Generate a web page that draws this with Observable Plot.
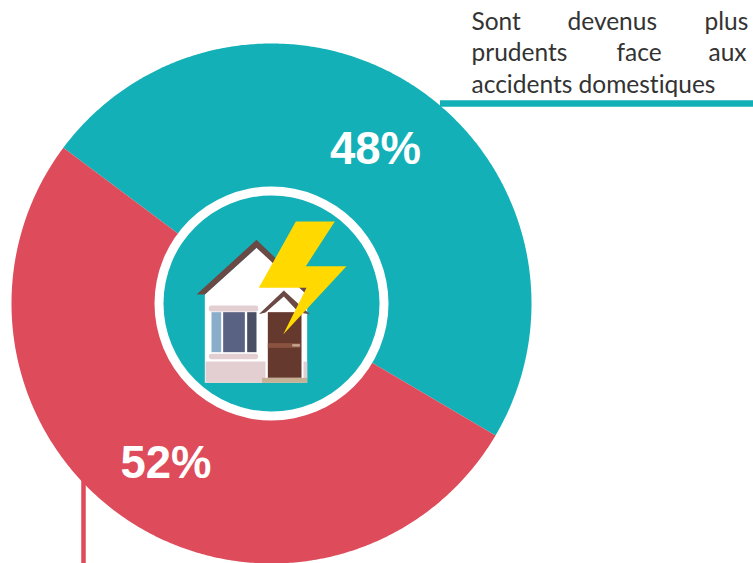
<!DOCTYPE html>
<html><head><meta charset="utf-8">
<script src="https://cdn.jsdelivr.net/npm/d3@7"></script>
<script src="https://cdn.jsdelivr.net/npm/@observablehq/plot@0.6"></script>
<style>html,body{margin:0;padding:0;background:#fff}svg{display:block}svg text{font-variant-ligatures:none}</style>
</head><body><div id="chart"></div>
<script>
const categories = ["Sont devenus plus prudents", "Autres"];
const shares = [48.25, 51.75];
const shareLabels = ["48%", "52%"];
const colors = ["#13b0b8", "#de4b5b"];
const captionLines = [["Sont","devenus","plus"],["prudents","face","aux"],["accidents domestiques"]];

const W = 753, H = 563, cx = 271, cy = 303, R = 260, startDeg = -53.2;

// wedges from the shares
let acc = startDeg;
const wedgePts = [];
categories.forEach((c, i) => {
  const span = shares[i] * 3.6, a0 = acc;
  wedgePts.push({category: c, x: cx, y: cy});
  for (let k = 0; k <= 360; k++) {
    const a = (a0 + span * k / 360) * Math.PI / 180;
    wedgePts.push({category: c, x: cx + R * Math.sin(a), y: cy - R * Math.cos(a)});
  }
  acc += span;
});

const iconSvg = `<svg xmlns="http://www.w3.org/2000/svg" viewBox="0 0 720 660" width="240" height="220">
<polygon points="163,312 318,172 470,300 470,577 163,577" fill="#fff"/>
<polygon points="138,312 318,148 468,292 468,312 318,172 163,312" fill="#6b4a45"/>
<rect x="165" y="513" width="180" height="64" fill="#e3cfd2"/>
<rect x="459" y="513" width="11" height="50" fill="#e3cfd2"/>
<rect x="175" y="345" width="148" height="18" rx="7" fill="#e3cfd2"/>
<rect x="175" y="490" width="148" height="16" rx="7" fill="#e3cfd2"/>
<rect x="183" y="365" width="29" height="120" fill="#8aaec9"/>
<rect x="218" y="365" width="65" height="120" fill="#5a6283"/>
<rect x="290" y="365" width="28" height="120" fill="#4a4f66"/>
<polygon points="345,368 400,318 458,368" fill="#fff"/>
<polygon points="325,371 400,300 478,371 445,366 400,318 345,366" fill="#6b4a45"/>
<rect x="352" y="365" width="101" height="197" fill="#66392e"/>
<rect x="352" y="458" width="98" height="14" fill="#8a5240"/>
<rect x="425" y="461" width="23" height="7" fill="#c8a898"/>
<rect x="335" y="562" width="135" height="15" fill="#c6b196"/>
<polygon points="436,93 553,93 466,227 588,227 398,432 468,292 325,292" fill="#ffd900"/>
</svg>`;
const iconSrc = "data:image/svg+xml;utf8," + encodeURIComponent(iconSvg);

const wordX = [[471,567,704],[471,616,708],[471]];
const words = captionLines.flatMap((ln, i) => ln.map((t, j) => ({t, x: wordX[i][j], y: [24,55,87][i]})));

const pct = [{v: shareLabels[0], x: 375, y: 149}, {v: shareLabels[1], x: 165.5, y: 463}];

const plot = Plot.plot({
  width: W, height: H, margin: 0,
  x: {domain: [0, W], range: [0, W], axis: null},
  y: {domain: [0, H], range: [0, H], axis: null},
  color: {domain: categories, range: colors},
  style: {background: "#fff"},
  marks: [
    Plot.line(wedgePts, {x: "x", y: "y", fill: "category", stroke: "none", curve: "linear"}),
    Plot.dot([0], {x: () => cx, y: () => cy, r: 117, fill: "#fff", stroke: "none"}),
    Plot.dot([0], {x: () => cx, y: () => cy, r: 108, fill: colors[0], stroke: "none"}),
    Plot.image([0], {x: () => 270, y: () => 300, width: 240, height: 220, src: () => iconSrc}),
    Plot.ruleY([103], {x1: 440, x2: W, stroke: colors[0], strokeWidth: 6.5}),
    Plot.ruleX([83], {y1: 480, y2: H, stroke: colors[1], strokeWidth: 4.5}),
    Plot.text(pct, {x: "x", y: "y", text: "v", fill: "#fff", fontWeight: "bold",
      fontSize: 45.5, fontFamily: "Liberation Sans", textAnchor: "middle", lineAnchor: "middle"}),
    Plot.text(words, {x: "x", y: "y", text: "t", fill: "#333", fontSize: 24.5,
      fontFamily: "Lato", textAnchor: "start", lineAnchor: "bottom", dy: 5})
  ]
});
document.getElementById("chart").append(plot);
</script></body></html>
